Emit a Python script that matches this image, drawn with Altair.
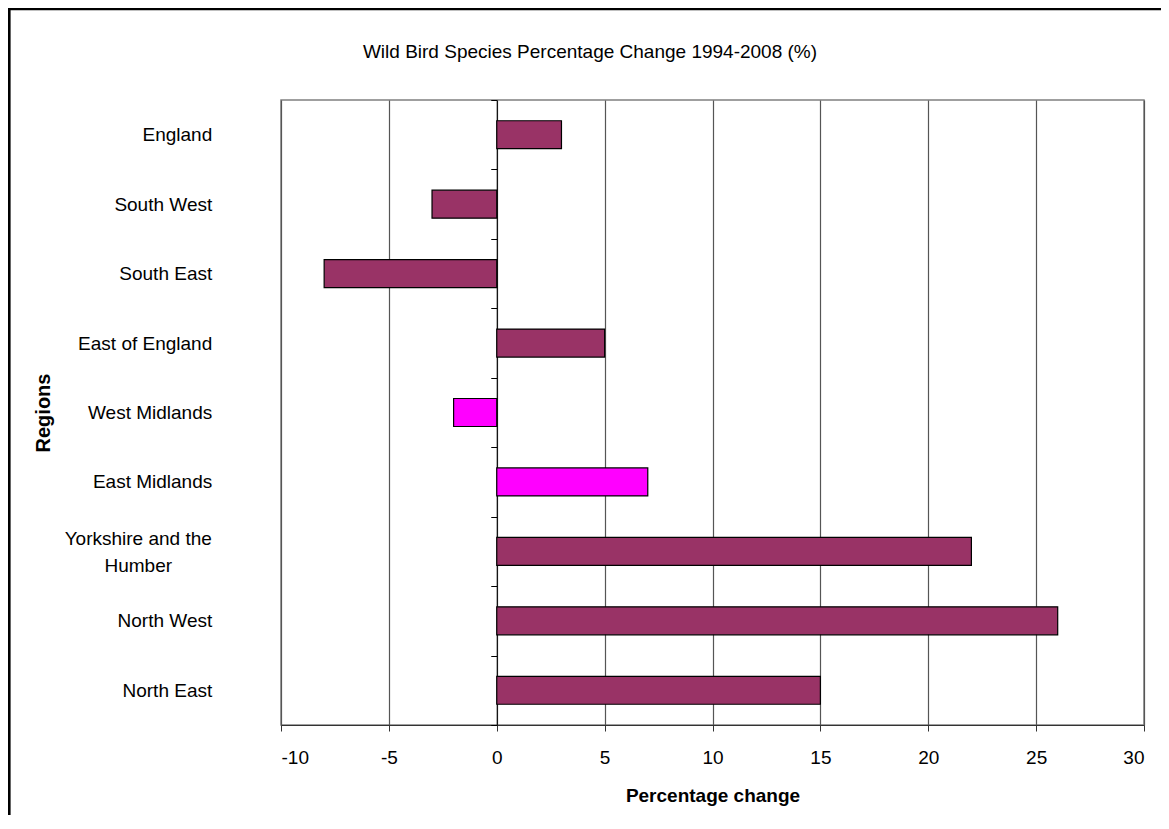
import altair as alt
import pandas as pd

# ---- data ----
regions = [
    "England",
    "South West",
    "South East",
    "East of England",
    "West Midlands",
    "East Midlands",
    "Yorkshire and the Humber",
    "North West",
    "North East",
]
changes = [3, -3, -8, 5, -2, 7, 22, 26, 15]
highlighted = [False, False, False, False, True, True, False, False, False]
x_ticks = [-10, -5, 0, 5, 10, 15, 20, 25, 30]
x_domain = [-10, 30]
chart_title = "Wild Bird Species Percentage Change 1994-2008 (%)"
x_title = "Percentage change"
y_title = "Regions"

df = pd.DataFrame({
    "Region": regions,
    "Change": changes,
    "Group": ["Highlighted" if h else "Standard" for h in highlighted],
})

FONT = "Liberation Sans"
W, H = 863, 625
zero_px = W * (0 - x_domain[0]) / (x_domain[1] - x_domain[0])
YH = "datum.value == 'Yorkshire and the Humber'"

y_axis = alt.Axis(
    title=y_title,
    offset=-zero_px,
    domain=True,
    domainColor="black",
    domainWidth=1,
    ticks=True,
    tickBand="extent",
    tickSize=6,
    tickColor="black",
    tickWidth=1,
    grid=False,
    labelFont=FONT,
    labelFontSize=19,
    labelColor="black",
    labelLimit=500,
    labelLineHeight=27,
    labelExpr="datum.value == 'Yorkshire and the Humber' ? ['Yorkshire and the', 'Humber'] : datum.value",
    labelAlign={"condition": {"test": YH, "value": "center"}, "value": "right"},
    labelPadding={"condition": {"test": YH, "value": 353}, "value": 279},
    labelOffset={"condition": {"test": YH, "value": -13}, "value": 0},
    titleFont=FONT,
    titleFontSize=20,
    titleFontWeight="bold",
    titleColor="black",
    titleAngle=270,
    titleAlign="center",
    titleBaseline="middle",
    titleX=-453,
    titleY=H / 2,
)

x_axis = alt.Axis(
    values=x_ticks,
    labelExpr="'' + datum.value",
    title=x_title,
    grid=True,
    gridColor="#555555",
    gridWidth=1.2,
    domainColor="#333333",
    domainWidth=1.2,
    tickColor="#333333",
    tickSize=6,
    labelFont=FONT,
    labelFontSize=19,
    labelColor="black",
    labelPadding=17,
    titleFont=FONT,
    titleFontSize=19,
    titleFontWeight="bold",
    titleColor="black",
    titleBaseline="alphabetic",
    titleY=76,
)

bars = alt.Chart(df).mark_bar(
    height={"band": 0.403}, stroke="black", strokeWidth=1.2
).encode(
    x=alt.X("Change:Q", scale=alt.Scale(domain=x_domain, nice=False), axis=x_axis),
    y=alt.Y("Region:N", sort=regions,
            scale=alt.Scale(paddingInner=0, paddingOuter=0), axis=y_axis),
    color=alt.Color("Group:N",
                    scale=alt.Scale(domain=["Standard", "Highlighted"],
                                    range=["#993366", "#FF00FF"]),
                    legend=None),
)

title_df = pd.DataFrame({"t": [chart_title]})
title_mark = alt.Chart(title_df).mark_text(
    font=FONT, fontSize=19, align="center", baseline="alphabetic", color="black"
).encode(text="t:N", x=alt.value(309), y=alt.value(-42))

frame_df = pd.DataFrame({"k": [0]})
frame = alt.Chart(frame_df).mark_rect(
    filled=False, stroke="black", strokeWidth=2.6
).encode(
    x=alt.value(-271.7), x2=alt.value(1000), y=alt.value(-91), y2=alt.value(900)
)

chart = alt.layer(frame, bars, title_mark).properties(
    width=W,
    height=H,
    padding={"left": 273, "top": 92, "right": 17, "bottom": 90},
    autosize=alt.AutoSizeParams(type="none"),
    background="white",
).configure_view(stroke="#808080", strokeWidth=1.5)

chart.save("out.html", embed_options={"renderer": "svg", "actions": False})
